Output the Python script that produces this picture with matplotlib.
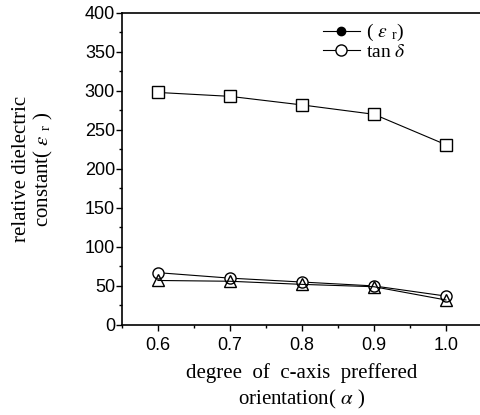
import matplotlib.pyplot as plt
from matplotlib.ticker import MultipleLocator

alpha = [0.6, 0.7, 0.8, 0.9, 1.0]
eps_r = [298, 293, 282, 270, 231]
tan_d = [67, 60, 55, 50, 37]
third = [57, 56, 52, 49, 32]

serif = ['Liberation Serif', 'DejaVu Serif']
plt.rcParams['font.family'] = ['Liberation Sans', 'DejaVu Sans']
plt.rcParams['mathtext.fontset'] = 'stix'

fig = plt.figure(figsize=(4.8, 4.15), dpi=100)
ax = fig.add_axes([0.254, 0.217, 0.75, 0.752])

ax.plot(alpha, eps_r, color='black', lw=0.8, marker='s', ms=8,
        mfc='white', mec='black', mew=1.0)
ax.plot(alpha, tan_d, color='black', lw=0.8, marker='o', ms=8,
        mfc='white', mec='black', mew=1.0)
ax.plot(alpha, third, color='black', lw=0.8, marker='^', ms=9,
        mfc='none', mec='black', mew=1.0)

# legend handles as in the original figure
h1, = ax.plot([], [], color='black', lw=0.8, marker='o', ms=6, mfc='black', mec='black')
h2, = ax.plot([], [], color='black', lw=0.8, marker='o', ms=8, mfc='white', mec='black')
ax.legend([h1, h2], [r'( $\varepsilon$ $_\mathregular{r}$)', r'tan $\delta$'],
          loc='upper left', bbox_to_anchor=(0.51, 1.026), frameon=False,
          prop={'family': serif, 'size': 14}, handlelength=1.9,
          handletextpad=0.3, labelspacing=0.0)

ax.set_xlim(0.55, 1.05)
ax.set_ylim(0, 400)
ax.xaxis.set_major_locator(MultipleLocator(0.1))
ax.xaxis.set_minor_locator(MultipleLocator(0.05))
ax.yaxis.set_major_locator(MultipleLocator(50))
ax.yaxis.set_minor_locator(MultipleLocator(25))
ax.tick_params(which='major', direction='out', length=4, width=1, labelsize=13, pad=1)
ax.tick_params(which='minor', direction='out', length=2.5, width=1)
ax.tick_params(axis='x', pad=5)
ax.xaxis.set_major_formatter(plt.FormatStrFormatter('%.1f'))

for s in ['left', 'bottom', 'top']:
    ax.spines[s].set_linewidth(1.2)
ax.spines['right'].set_visible(False)

ax.set_xlabel('degree  of  c-axis  preffered\norientation( $\\alpha$ )',
              family=serif, fontsize=15, labelpad=6, linespacing=1.3)
ax.set_ylabel('relative dielectric\nconstant( $\\varepsilon$ $_\\mathregular{r}$ )',
              family=serif, fontsize=15, linespacing=1.1)
ax.yaxis.set_label_coords(-0.185, 0.5)

fig.savefig('out.png', dpi=100)
